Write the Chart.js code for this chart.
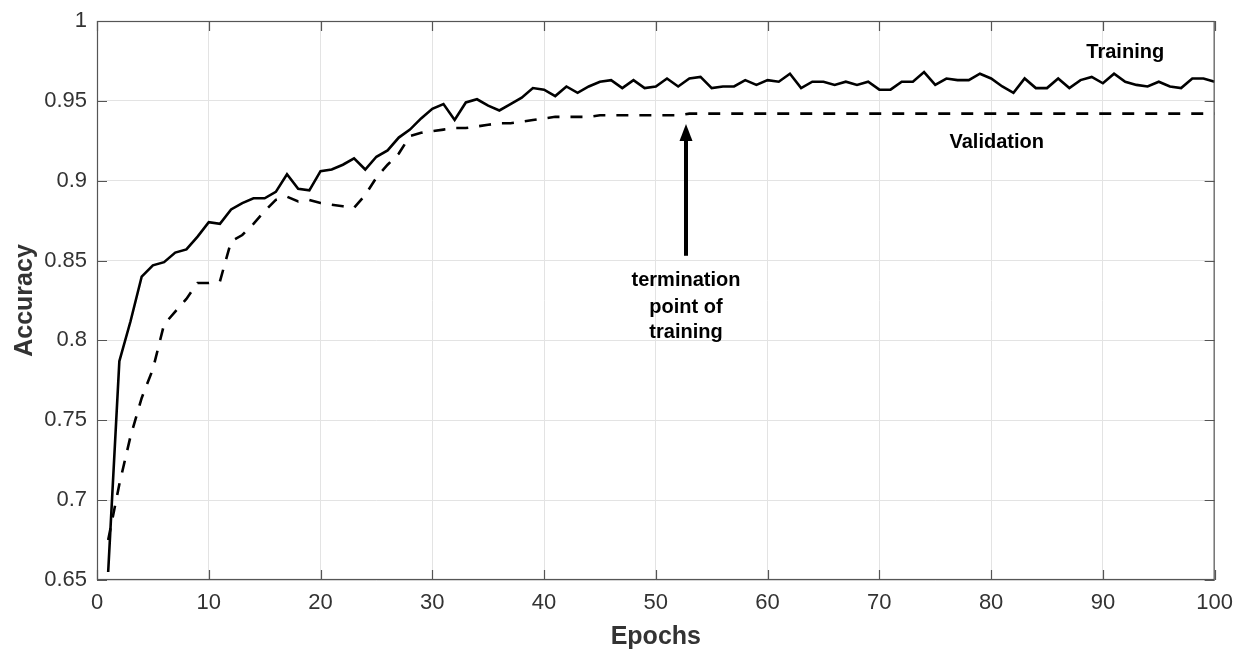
<!DOCTYPE html>
<html lang="en">
<head>
<meta charset="UTF-8">
<title>Accuracy vs Epochs</title>
<script src="https://cdn.jsdelivr.net/npm/chart.js"></script>
<style>
  html, body { margin: 0; padding: 0; background: #fff; }
  .wrap { width: 1243px; height: 652px; }
</style>
</head>
<body>
<div class="wrap"><canvas id="grafico"></canvas></div>
<script>
// epochs 1..100
const epochs = [1,2,3,4,5,6,7,8,9,10,11,12,13,14,15,16,17,18,19,20,
  21,22,23,24,25,26,27,28,29,30,31,32,33,34,35,36,37,38,39,40,
  41,42,43,44,45,46,47,48,49,50,51,52,53,54,55,56,57,58,59,60,
  61,62,63,64,65,66,67,68,69,70,71,72,73,74,75,76,77,78,79,80,
  81,82,83,84,85,86,87,88,89,90,91,92,93,94,95,96,97,98,99,100];

const training = [0.655,0.787,0.812,0.840,0.847,0.849,0.855,0.857,0.865,0.874,
  0.873,0.882,0.886,0.889,0.889,0.893,0.904,0.895,0.894,0.906,
  0.907,0.910,0.914,0.907,0.915,0.919,0.927,0.932,0.939,0.945,
  0.948,0.938,0.949,0.951,0.947,0.944,0.948,0.952,0.958,0.957,
  0.953,0.959,0.955,0.959,0.962,0.963,0.958,0.963,0.958,0.959,
  0.964,0.959,0.964,0.965,0.958,0.959,0.959,0.963,0.960,0.963,
  0.962,0.967,0.958,0.962,0.962,0.960,0.962,0.960,0.962,0.957,
  0.957,0.962,0.962,0.968,0.960,0.964,0.963,0.963,0.967,0.964,
  0.959,0.955,0.964,0.958,0.958,0.964,0.958,0.963,0.965,0.961,
  0.967,0.962,0.960,0.959,0.962,0.959,0.958,0.964,0.964,0.962];

const validation = [0.675,0.710,0.740,0.764,0.782,0.810,0.818,0.826,0.836,0.836,
  0.837,0.862,0.866,0.873,0.881,0.888,0.890,0.887,0.888,0.886,
  0.885,0.884,0.883,0.891,0.902,0.910,0.917,0.928,0.930,0.931,
  0.932,0.933,0.933,0.934,0.935,0.936,0.936,0.937,0.938,0.939,
  0.940,0.940,0.940,0.940,0.941,0.941,0.941,0.941,0.941,0.941,
  0.941,0.941,0.942,0.942,0.942,0.942,0.942,0.942,0.942,0.942,
  0.942,0.942,0.942,0.942,0.942,0.942,0.942,0.942,0.942,0.942,
  0.942,0.942,0.942,0.942,0.942,0.942,0.942,0.942,0.942,0.942,
  0.942,0.942,0.942,0.942,0.942,0.942,0.942,0.942,0.942,0.942,
  0.942,0.942,0.942,0.942,0.942,0.942,0.942,0.942,0.942,0.942];

const xTicks = [0,10,20,30,40,50,60,70,80,90,100];
const yTicks = [0.65,0.7,0.75,0.8,0.85,0.9,0.95,1];
const yTickLabels = ['0.65','0.7','0.75','0.8','0.85','0.9','0.95','1'];

// text annotations in data coordinates
const notas = [
  { texto: 'Training', x: 92, y: 0.980 },
  { texto: 'Validation', x: 80.5, y: 0.924 },
  { texto: 'termination', x: 52.7, y: 0.8375 },
  { texto: 'point of', x: 52.7, y: 0.8206 },
  { texto: 'training', x: 52.7, y: 0.8050 }
];
const seta = { x: 52.7, de: 0.853, ate: 0.9355 };

const corEixo = '#555555';
const corTexto = '#333333';
const fonte = '"Liberation Sans", Arial, sans-serif';

const molduraPlugin = {
  id: 'moldura',
  afterDatasetsDraw(chart) {
    const ctx = chart.ctx;
    const a = chart.chartArea;
    const sx = chart.scales.x, sy = chart.scales.y;
    ctx.save();
    // box
    ctx.strokeStyle = corEixo;
    ctx.lineWidth = 1.2;
    ctx.strokeRect(a.left + 0.5, a.top + 0.5, a.right - a.left - 1, a.bottom - a.top - 1);
    // inner ticks
    ctx.beginPath();
    xTicks.forEach(v => {
      const px = Math.round(sx.getPixelForValue(v)) + 0.5;
      ctx.moveTo(px, a.bottom); ctx.lineTo(px, a.bottom - 10);
      ctx.moveTo(px, a.top); ctx.lineTo(px, a.top + 10);
    });
    yTicks.forEach(v => {
      const py = Math.round(sy.getPixelForValue(v)) + 0.5;
      ctx.moveTo(a.left, py); ctx.lineTo(a.left + 10, py);
      ctx.moveTo(a.right, py); ctx.lineTo(a.right - 10, py);
    });
    ctx.stroke();

    // labels
    ctx.fillStyle = '#000';
    ctx.font = 'bold 20px ' + fonte;
    ctx.textAlign = 'center';
    ctx.textBaseline = 'middle';
    notas.forEach(n => {
      ctx.fillText(n.texto, sx.getPixelForValue(n.x), sy.getPixelForValue(n.y));
    });

    // arrow
    const ax = sx.getPixelForValue(seta.x);
    const y1 = sy.getPixelForValue(seta.de);
    const y2 = sy.getPixelForValue(seta.ate);
    ctx.strokeStyle = '#000';
    ctx.lineWidth = 4;
    ctx.beginPath();
    ctx.moveTo(ax, y1);
    ctx.lineTo(ax, y2 + 12);
    ctx.stroke();
    ctx.beginPath();
    ctx.moveTo(ax, y2);
    ctx.lineTo(ax - 6.5, y2 + 17);
    ctx.lineTo(ax + 6.5, y2 + 17);
    ctx.closePath();
    ctx.fill();
    ctx.restore();
  }
};

new Chart(document.getElementById('grafico'), {
  type: 'line',
  data: {
    labels: epochs,
    datasets: [
      {
        label: 'Training',
        data: epochs.map((e, i) => ({ x: e, y: training[i] })),
        borderColor: '#000',
        borderWidth: 2.6,
        pointRadius: 0,
        tension: 0,
        fill: false
      },
      {
        label: 'Validation',
        data: epochs.map((e, i) => ({ x: e, y: validation[i] })),
        borderColor: '#000',
        borderWidth: 2.6,
        borderDash: [12, 11],
        pointRadius: 0,
        tension: 0,
        fill: false
      }
    ]
  },
  options: {
    responsive: true,
    maintainAspectRatio: false,
    animation: false,
    layout: { padding: { top: 20, right: 28, left: 0, bottom: 0 } },
    plugins: {
      legend: { display: false },
      tooltip: { enabled: false }
    },
    scales: {
      x: {
        type: 'linear',
        min: 0,
        max: 100,
        afterBuildTicks: s => { s.ticks = xTicks.map(v => ({ value: v })); },
        afterFit: s => { s.height = 72; },
        grid: { color: '#e3e3e3', drawTicks: false },
        border: { display: false },
        ticks: {
          color: corTexto,
          font: { family: fonte, size: 22 },
          padding: 10,
          maxRotation: 0
        },
        title: {
          display: true,
          text: 'Epochs',
          color: corTexto,
          font: { family: fonte, size: 25, weight: 'bold' },
          padding: { top: 0, bottom: 0 }
        }
      },
      y: {
        min: 0.65,
        max: 1,
        afterBuildTicks: s => { s.ticks = yTicks.map(v => ({ value: v })); },
        afterFit: s => { s.width = 97; },
        grid: { color: '#e3e3e3', drawTicks: false },
        border: { display: false },
        ticks: {
          color: corTexto,
          font: { family: fonte, size: 22, lineHeight: 1 },
          padding: 10,
          callback: (v) => {
            const i = yTicks.findIndex(t => Math.abs(t - v) < 1e-9);
            return i >= 0 ? yTickLabels[i] : '';
          }
        },
        title: {
          display: true,
          text: 'Accuracy',
          color: corTexto,
          font: { family: fonte, size: 25, weight: 'bold' },
          padding: { top: 10, bottom: 0 }
        }
      }
    }
  },
  plugins: [molduraPlugin]
});
</script>
</body>
</html>
